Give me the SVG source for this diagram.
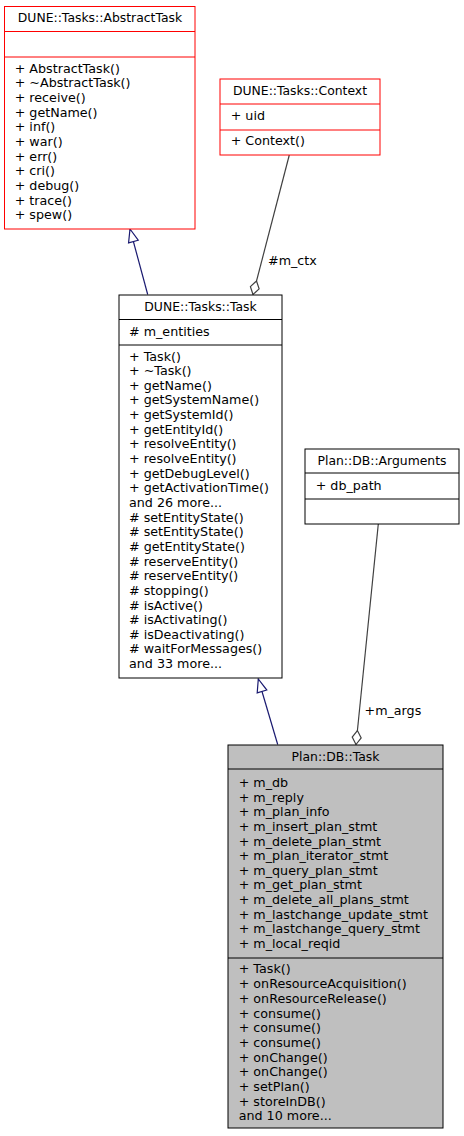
<svg xmlns="http://www.w3.org/2000/svg" width="464" height="1136" viewBox="0 0 464 1136">
<style>
text{font-family:"DejaVu Sans","Liberation Sans",sans-serif;font-size:12.7px;fill:#000}
.t{text-anchor:middle;font-size:12.4px}
.red{fill:#fff;stroke:#ff0000;stroke-width:1}
.blk{fill:#fff;stroke:#000;stroke-width:1}
.gry{fill:#bfbfbf;stroke:#000;stroke-width:1}
.sr{stroke:#ff0000;stroke-width:1}
.sb{stroke:#000;stroke-width:1}
.inh{fill:none;stroke:#191970;stroke-width:1.2}
.agg{fill:none;stroke:#404040;stroke-width:1.2}
</style>
<defs>
<marker id="tri" markerUnits="userSpaceOnUse" markerWidth="16" markerHeight="14" refX="13" refY="7" orient="auto" overflow="visible">
<path d="M13,7 L0,2 L0,12 Z" fill="#fff" stroke="#191970" stroke-width="1.2"/>
</marker>
<marker id="dia" markerUnits="userSpaceOnUse" markerWidth="16" markerHeight="12" refX="0" refY="5" orient="auto" overflow="visible">
<path d="M0,5 L7,0.5 L14,5 L7,9.5 Z" fill="#fff" stroke="#404040" stroke-width="1.2"/>
</marker>
</defs>
<g id="connectors">
<path class="inh" d="M147.7,294.5 L130,229" marker-end="url(#tri)"/>
<path class="agg" d="M253,294.5 L289.3,155" marker-start="url(#dia)"/>
<text x="268" y="265">#m_ctx</text>
<path class="inh" d="M277.7,744.5 L258.3,679" marker-end="url(#tri)"/>
<path class="agg" d="M356,744.5 L378.3,524" marker-start="url(#dia)"/>
<text x="364.5" y="715">+m_args</text>
</g>
<g id="abstracttask">
<rect class="red" x="4.5" y="6.5" width="190.5" height="222.5"/>
<line class="sr" x1="4.5" y1="31.5" x2="195" y2="31.5"/>
<line class="sr" x1="4.5" y1="57" x2="195" y2="57"/>
<text class="t" x="100" y="21.7">DUNE::Tasks::AbstractTask</text>
<text x="14.7" y="72.7"><tspan>+ AbstractTask()</tspan><tspan x="14.7" dy="14.65">+ ~AbstractTask()</tspan><tspan x="14.7" dy="14.65">+ receive()</tspan><tspan x="14.7" dy="14.65">+ getName()</tspan><tspan x="14.7" dy="14.65">+ inf()</tspan><tspan x="14.7" dy="14.65">+ war()</tspan><tspan x="14.7" dy="14.65">+ err()</tspan><tspan x="14.7" dy="14.65">+ cri()</tspan><tspan x="14.7" dy="14.65">+ debug()</tspan><tspan x="14.7" dy="14.65">+ trace()</tspan><tspan x="14.7" dy="14.65">+ spew()</tspan></text>
</g>
<g id="context">
<rect class="red" x="220" y="79" width="160" height="76"/>
<line class="sr" x1="220" y1="104" x2="380" y2="104"/>
<line class="sr" x1="220" y1="130" x2="380" y2="130"/>
<text class="t" x="300" y="95">DUNE::Tasks::Context</text>
<text x="230.7" y="120.4">+ uid</text>
<text x="230.7" y="145.4">+ Context()</text>
</g>
<g id="task">
<rect class="blk" x="119" y="295" width="163" height="383"/>
<line class="sb" x1="119" y1="319.5" x2="282" y2="319.5"/>
<line class="sb" x1="119" y1="345" x2="282" y2="345"/>
<text class="t" x="200.5" y="311">DUNE::Tasks::Task</text>
<text x="129" y="336"># m_entities</text>
<text x="129" y="360.5"><tspan>+ Task()</tspan><tspan x="129" dy="14.65">+ ~Task()</tspan><tspan x="129" dy="14.65">+ getName()</tspan><tspan x="129" dy="14.65">+ getSystemName()</tspan><tspan x="129" dy="14.65">+ getSystemId()</tspan><tspan x="129" dy="14.65">+ getEntityId()</tspan><tspan x="129" dy="14.65">+ resolveEntity()</tspan><tspan x="129" dy="14.65">+ resolveEntity()</tspan><tspan x="129" dy="14.65">+ getDebugLevel()</tspan><tspan x="129" dy="14.65">+ getActivationTime()</tspan><tspan x="129" dy="14.65">and 26 more...</tspan><tspan x="129" dy="14.65"># setEntityState()</tspan><tspan x="129" dy="14.65"># setEntityState()</tspan><tspan x="129" dy="14.65"># getEntityState()</tspan><tspan x="129" dy="14.65"># reserveEntity()</tspan><tspan x="129" dy="14.65"># reserveEntity()</tspan><tspan x="129" dy="14.65"># stopping()</tspan><tspan x="129" dy="14.65"># isActive()</tspan><tspan x="129" dy="14.65"># isActivating()</tspan><tspan x="129" dy="14.65"># isDeactivating()</tspan><tspan x="129" dy="14.65"># waitForMessages()</tspan><tspan x="129" dy="14.65">and 33 more...</tspan></text>
</g>
<g id="arguments">
<rect class="blk" x="305" y="449" width="154" height="75"/>
<line class="sb" x1="305" y1="473" x2="459" y2="473"/>
<line class="sb" x1="305" y1="499" x2="459" y2="499"/>
<text class="t" x="382" y="465">Plan::DB::Arguments</text>
<text x="315.7" y="490">+ db_path</text>
</g>
<g id="dbtask">
<rect class="gry" x="228" y="745" width="215" height="383"/>
<line class="sb" x1="228" y1="769" x2="443" y2="769"/>
<line class="sb" x1="228" y1="958" x2="443" y2="958"/>
<text class="t" x="335.5" y="761">Plan::DB::Task</text>
<text x="238.7" y="787.1"><tspan>+ m_db</tspan><tspan x="238.7" dy="14.6">+ m_reply</tspan><tspan x="238.7" dy="14.6">+ m_plan_info</tspan><tspan x="238.7" dy="14.6">+ m_insert_plan_stmt</tspan><tspan x="238.7" dy="14.6">+ m_delete_plan_stmt</tspan><tspan x="238.7" dy="14.6">+ m_plan_iterator_stmt</tspan><tspan x="238.7" dy="14.6">+ m_query_plan_stmt</tspan><tspan x="238.7" dy="14.6">+ m_get_plan_stmt</tspan><tspan x="238.7" dy="14.6">+ m_delete_all_plans_stmt</tspan><tspan x="238.7" dy="14.6">+ m_lastchange_update_stmt</tspan><tspan x="238.7" dy="14.6">+ m_lastchange_query_stmt</tspan><tspan x="238.7" dy="14.6">+ m_local_reqid</tspan></text>
<text x="238.7" y="973.4"><tspan>+ Task()</tspan><tspan x="238.7" dy="14.7">+ onResourceAcquisition()</tspan><tspan x="238.7" dy="14.7">+ onResourceRelease()</tspan><tspan x="238.7" dy="14.7">+ consume()</tspan><tspan x="238.7" dy="14.7">+ consume()</tspan><tspan x="238.7" dy="14.7">+ consume()</tspan><tspan x="238.7" dy="14.7">+ onChange()</tspan><tspan x="238.7" dy="14.7">+ onChange()</tspan><tspan x="238.7" dy="14.7">+ setPlan()</tspan><tspan x="238.7" dy="14.7">+ storeInDB()</tspan><tspan x="238.7" dy="14.7">and 10 more...</tspan></text>
</g>
</svg>
